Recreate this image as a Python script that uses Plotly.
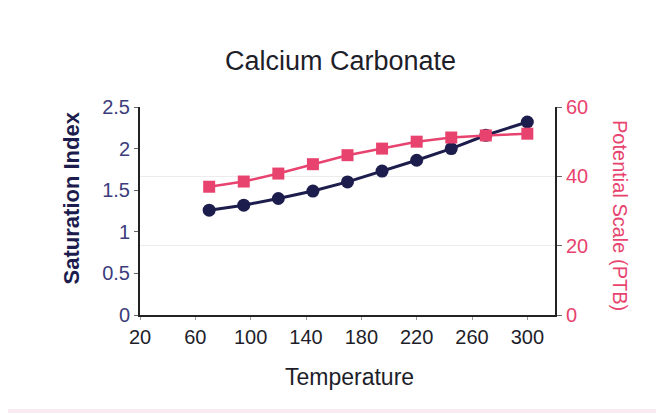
import plotly.graph_objects as go

NAVY = "#1d1d4d"
PINK = "#e8436e"
FONT = "Liberation Sans, Arial, sans-serif"

temperature = [70, 95, 120, 145, 170, 195, 220, 245, 270, 300]
saturation_index = [1.26, 1.32, 1.40, 1.49, 1.60, 1.73, 1.86, 2.00, 2.16, 2.32]
potential_scale = [37.0, 38.5, 40.8, 43.5, 46.1, 48.0, 50.0, 51.2, 51.8, 52.3]

x_ticks = [20, 60, 100, 140, 180, 220, 260, 300]
si_ticks = [0, 0.5, 1, 1.5, 2, 2.5]
ptb_ticks = [0, 20, 40, 60]

fig = go.Figure()

fig.add_trace(go.Scatter(
    x=temperature, y=potential_scale, yaxis="y2",
    mode="lines+markers",
    line=dict(color=PINK, width=2.5),
    marker=dict(symbol="square", size=12, color=PINK),
    showlegend=False,
))

fig.add_trace(go.Scatter(
    x=temperature, y=saturation_index,
    mode="lines+markers",
    line=dict(color=NAVY, width=3),
    marker=dict(symbol="circle", size=13, color=NAVY),
    showlegend=False,
))

# soft card border
fig.add_shape(type="rect", xref="paper", yref="paper",
              x0=-0.4, x1=1.251, y0=-0.4615, y1=1.6,
              line=dict(color="#f7eaf1", width=4), layer="below")

ann = dict(xref="paper", yref="paper", showarrow=False,
           xanchor="center", yanchor="middle")
fig.add_annotation(text="Calcium Carbonate", x=0.482, y=1.221,
                   font=dict(family=FONT, size=27, color="#1e1e2a"), **ann)
fig.add_annotation(text="<b>Saturation Index</b>", x=-0.164, y=0.565,
                   textangle=-90,
                   font=dict(family=FONT, size=22, color=NAVY), **ann)
fig.add_annotation(text="Potential Scale (PTB)", x=1.157, y=0.48,
                   textangle=90,
                   font=dict(family=FONT, size=20, color=PINK), **ann)
fig.add_annotation(text="Temperature", x=0.506, y=-0.298,
                   font=dict(family=FONT, size=23, color="#1e1e2a"), **ann)

fig.update_layout(
    width=656, height=411,
    margin=dict(l=132, r=109, t=99, b=104),
    paper_bgcolor="white", plot_bgcolor="white",
    font=dict(family=FONT),
    xaxis=dict(
        range=[20, 320], tickvals=x_ticks, showgrid=False, zeroline=False,
        showline=True, linecolor="#222222", linewidth=2,
        ticks="outside", ticklen=3, tickcolor="#999999",
        tickfont=dict(size=20, color="#1e1e2a"),
    ),
    yaxis=dict(
        range=[0, 2.5], tickvals=si_ticks,
        showgrid=False, zeroline=False,
        showline=True, linecolor="#222222", linewidth=2,
        ticks="outside", ticklen=4, tickcolor="#666666",
        tickfont=dict(size=20, color="#3c3c7c"),
    ),
    yaxis2=dict(
        range=[0, 60], tickvals=ptb_ticks, overlaying="y", side="right",
        showgrid=True, gridcolor="#ececec", gridwidth=1, zeroline=False,
        showline=True, linecolor="#222222", linewidth=2,
        ticks="outside", ticklen=5, tickcolor="#666666",
        tickfont=dict(size=20, color=PINK),
    ),
)

fig.write_html("out.html")
